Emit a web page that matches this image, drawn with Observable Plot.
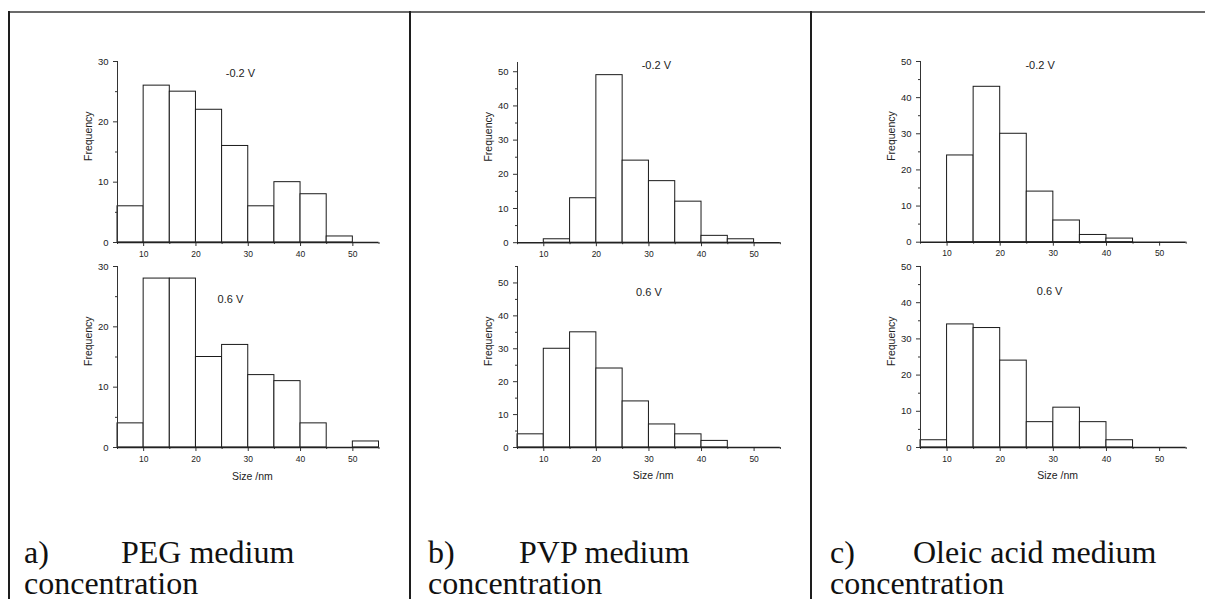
<!DOCTYPE html>
<html>
<head>
<meta charset="utf-8">
<script src="https://cdn.jsdelivr.net/npm/d3@7"></script>
<script src="https://cdn.jsdelivr.net/npm/@observablehq/plot@0.6"></script>
<style>
  html, body { margin: 0; padding: 0; background: #fff; }
  #page { position: relative; width: 1205px; height: 599px; overflow: hidden; background: #fff; }
  .chart { position: absolute; }
  .chart svg { overflow: visible; }
  .line { position: absolute; }
  .cap { position: absolute; font-family: "Liberation Serif", "Times New Roman", serif; font-size: 32px; line-height: 29px; height: 29px; color: #111; white-space: nowrap; }
</style>
</head>
<body>
<div id="page"></div>
<script>
// ---- data (bin edges in nm, counts per bin) ----
const binStarts = [5, 10, 15, 20, 25, 30, 35, 40, 45, 50];
const binWidth = 5;
const pegNeg   = [6, 26, 25, 22, 16, 6, 10, 8, 1, 0];
const pegPos   = [4, 28, 28, 15, 17, 12, 11, 4, 0, 1];
const pvpNeg   = [0, 1, 13, 49, 24, 18, 12, 2, 1, 0];
const pvpPos   = [4, 30, 35, 24, 14, 7, 4, 2, 0, 0];
const oleicNeg = [0, 24, 43, 30, 14, 6, 2, 1, 0, 0];
const oleicPos = [2, 34, 33, 24, 7, 11, 7, 2, 0, 0];
const xMajor = [10, 20, 30, 40, 50];
const xMinor = [5, 15, 25, 35, 45, 55];
const voltLabels = ["-0.2 V", "0.6 V"];
const captions = [
  ["a)", "PEG medium", "concentration"],
  ["b)", "PVP medium", "concentration"],
  ["c)", "Oleic acid medium", "concentration"]
];

const page = document.getElementById("page");

function bins(counts) {
  return binStarts.map((s, i) => ({x0: s, x1: s + binWidth, n: counts[i]})).filter(d => d.n > 0);
}

function chart(cfg) {
  const mL = 50, mR = 14, mT = 12, mB = cfg.bottom ? 46 : 24;
  const w = (cfg.x55 - cfg.x5) + mL + mR;
  const h = (cfg.yBase - cfg.yTop) + mT + mB;
  const marks = [
    Plot.rect(bins(cfg.counts), {x1: "x0", x2: "x1", y1: 0, y2: "n", fill: "white", stroke: "#1a1a1a", strokeWidth: 1}),
    Plot.ruleX([5], {y1: 0, y2: cfg.ymax, stroke: "#333", strokeWidth: 1}),
    Plot.axisY({ticks: cfg.yTicks, tickSize: 4, tickPadding: 5, fontSize: 9.5, label: null, stroke: "#333", fill: "#222"}),
    Plot.axisY({ticks: cfg.yMinor, tickSize: 2, tickFormat: () => "", label: null, stroke: "#333"}),
    Plot.axisX({ticks: xMajor, tickSize: 4, tickPadding: 4, fontSize: 8.5, label: null, stroke: "#333", fill: "#222"}),
    Plot.axisX({ticks: xMinor, tickSize: 2, tickFormat: () => "", label: null, stroke: "#333"}),
    Plot.ruleY([0], {stroke: "#222", strokeWidth: 1.6}),
    Plot.text(["Frequency"], {frameAnchor: "left", rotate: -90, dx: -29, dy: 9, fontSize: 10.5, fill: "#222"}),
    Plot.text([cfg.label], {x: cfg.lx, y: cfg.ly, fontSize: 11, fill: "#222"})
  ];
  if (cfg.bottom) {
    marks.push(Plot.text(["Size /nm"], {x: 30.8, frameAnchor: "bottom", dy: 32, fontSize: 10.5, fill: "#222"}));
  }
  const svg = Plot.plot({
    width: w, height: h,
    marginLeft: mL, marginRight: mR, marginTop: mT, marginBottom: mB,
    x: {domain: [5, 55], axis: null},
    y: {domain: [0, cfg.ymax], axis: null},
    style: {fontFamily: "'Liberation Sans', Arial, sans-serif", background: "transparent", overflow: "visible"},
    marks
  });
  const div = document.createElement("div");
  div.className = "chart";
  div.style.left = (cfg.x5 - mL) + "px";
  div.style.top = (cfg.yTop - mT) + "px";
  div.appendChild(svg);
  page.appendChild(div);
}

const panels = [
  {x5: 117.2, x55: 378.7, top: {counts: pegNeg, ymax: 30, yTicks: [0,10,20,30], yMinor: [5,15,25], yTop: 60.7, lx: 28.5, ly: 28},
                          bot: {counts: pegPos, ymax: 30, yTicks: [0,10,20,30], yMinor: [5,15,25], yTop: 265.7, lx: 26.6, ly: 24.6}},
  {x5: 516.7, x55: 779.6, top: {counts: pvpNeg, ymax: 52.7, yTicks: [0,10,20,30,40,50], yMinor: [5,15,25,35,45], yTop: 61.5, lx: 31.4, ly: 51.8},
                          bot: {counts: pvpPos, ymax: 55, yTicks: [0,10,20,30,40,50], yMinor: [5,15,25,35,45,55], yTop: 265.7, lx: 30, ly: 47}},
  {x5: 920.1, x55: 1185.8, top: {counts: oleicNeg, ymax: 50, yTicks: [0,10,20,30,40,50], yMinor: [5,15,25,35,45], yTop: 61, lx: 27.5, ly: 48.8},
                          bot: {counts: oleicPos, ymax: 50, yTicks: [0,10,20,30,40,50], yMinor: [5,15,25,35,45], yTop: 265.7, lx: 29.3, ly: 43}}
];

panels.forEach(p => {
  chart({...p.top, x5: p.x5, x55: p.x55, yBase: 241.7, label: voltLabels[0], bottom: false});
  chart({...p.bot, x5: p.x5, x55: p.x55, yBase: 446.7, label: voltLabels[1], bottom: true});
});

// table borders
function line(l, t, w, h, c) {
  const d = document.createElement("div");
  d.className = "line";
  Object.assign(d.style, {left: l + "px", top: t + "px", width: w + "px", height: h + "px", background: c});
  page.appendChild(d);
}
line(8, 11, 1197, 2, "#6b6b6b");
line(8, 11, 2, 588, "#1e1e1e");
line(409, 11, 2, 588, "#1e1e1e");
line(810, 11, 2, 588, "#1e1e1e");

// captions
const capX = [[24, 121], [428, 519], [830, 913]];
captions.forEach((c, i) => {
  const mk = (txt, l, t) => {
    const d = document.createElement("div");
    d.className = "cap";
    d.textContent = txt;
    d.style.left = l + "px";
    d.style.top = t + "px";
    page.appendChild(d);
  };
  mk(c[0], capX[i][0], 538);
  mk(c[1], capX[i][1], 538);
  mk(c[2], capX[i][0], 569);
});
</script>
</body>
</html>
